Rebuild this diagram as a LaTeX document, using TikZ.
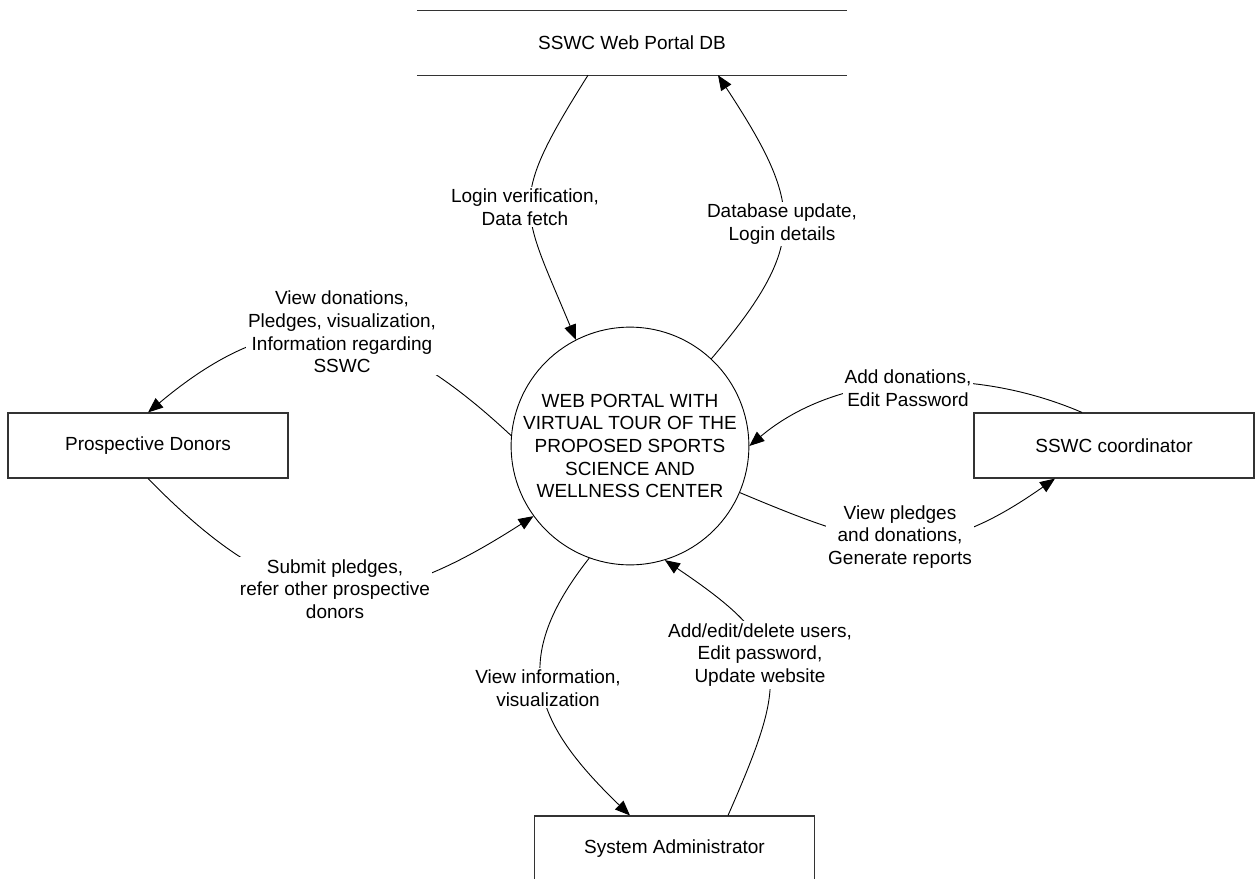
\documentclass[tikz,border=0pt]{standalone}
\usepackage{fontspec}
\setmainfont{Liberation Sans}
\usetikzlibrary{arrows.meta}
\begin{document}
\begin{tikzpicture}[x=1pt,y=-1pt,
  every node/.style={font=\fontsize{19}{22.7}\selectfont},
  entity/.style={draw=black!80, line width=1.1pt, minimum width=280pt, minimum height=65pt, inner sep=0pt},
  store/.style={minimum width=430pt, minimum height=64pt, inner sep=0pt},
  storeline/.style={draw=black!80, line width=1.1pt},
  process/.style={draw, circle, line width=0.9pt, minimum size=224pt, inner sep=0pt, align=center},
  flow/.style={line width=0.9pt, -{Triangle[length=15pt,width=12pt]}},
  flowlabel/.style={fill=white, align=center, inner sep=2pt}]
\useasboundingbox (0,0) rectangle (1255,878);
\clip (0,0) rectangle (1255,878);

% data store, process and external entities
\node[store] (db) at (632,43) {SSWC Web Portal DB};
\draw[storeline] (db.north west) -- (db.north east);
\draw[storeline] (db.south west) -- (db.south east);

\node[process] (c) at (630,446) {WEB PORTAL WITH\\VIRTUAL TOUR OF THE\\PROPOSED SPORTS\\SCIENCE AND\\WELLNESS CENTER};

\node[entity] (pd) at (148,445.5) {Prospective Donors};
\node[entity] (co) at (1114,445.5) {SSWC coordinator};
\node[entity] (sa) at (674.5,848.5) {System Administrator};

% data flows
\draw[flow] ([xshift=-44pt]db.south) .. controls (507,204) and (520,205) .. (c.117);
\draw[flow] (c.47.5) .. controls (809,244) and (803,205) .. ([xshift=86pt]db.south);
\draw[flow] (c.175) .. controls (382,315) and (288,295) .. (pd.north);
\draw[flow] (pd.south) .. controls (287,620) and (369,622) .. (c.216.6);
\draw[flow] ([xshift=-32pt]co.north) .. controls (972,365) and (838,371) .. (c.0);
\draw[flow] (c.337) .. controls (877,550) and (929,567) .. ([xshift=-59pt]co.south);
\draw[flow] (c.250.4) .. controls (509,660) and (532,721) .. ([xshift=-44.5pt]sa.north);
\draw[flow] ([xshift=53.5pt]sa.north) .. controls (791,672) and (791,645) .. (c.287);

% flow labels
\node[flowlabel] (l1) at (525,207) {Login verification,\\Data fetch};
\node[flowlabel] (l2) at (782,224) {Database update,\\Login details};
\node[flowlabel] (l3) at (342,332) {View donations,\\Pledges, visualization,\\Information regarding\\SSWC};
\node[flowlabel] (l4) at (335,589) {Submit pledges,\\refer other prospective\\donors};
\node[flowlabel] (l5) at (908,388) {Add donations,\\Edit Password};
\node[flowlabel] (l6) at (900,537) {View pledges\\and donations,\\Generate reports};
\node[flowlabel] (l7) at (548,688) {View information,\\visualization};
\node[flowlabel] (l8) at (760,655) {Add/edit/delete users,\\Edit password,\\Update website};
\end{tikzpicture}
\end{document}
